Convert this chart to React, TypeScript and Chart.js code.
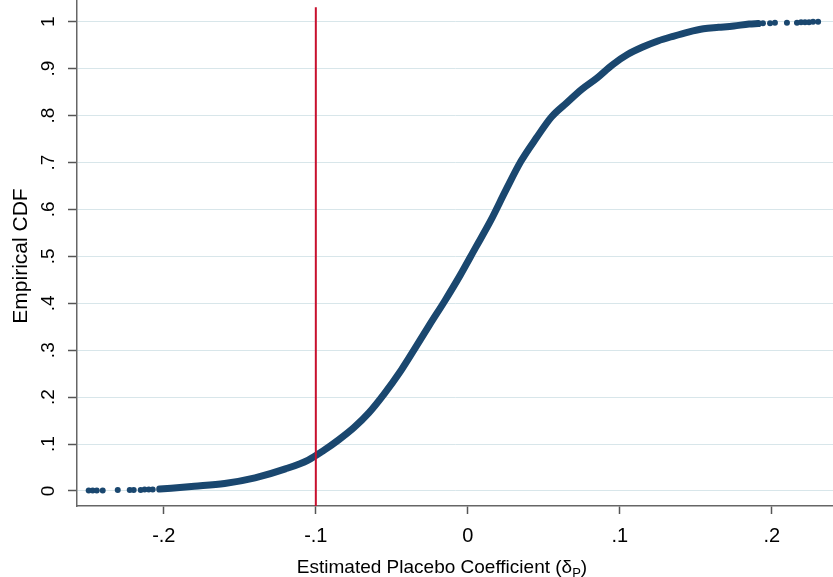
import React, { useEffect, useRef } from "react";
import { Chart, registerables } from "chart.js";

Chart.register(...registerables);

// Tick values and labels
const X_TICKS = [-0.2, -0.1, 0, 0.1, 0.2];
const X_TICK_LABELS = ["-.2", "-.1", "0", ".1", ".2"];
const Y_TICKS = [0, 0.1, 0.2, 0.3, 0.4, 0.5, 0.6, 0.7, 0.8, 0.9, 1];
const Y_TICK_LABELS = ["0", ".1", ".2", ".3", ".4", ".5", ".6", ".7", ".8", ".9", "1"];

// Empirical CDF — dense body of the curve (estimate vs cumulative share)
const CURVE_X = [
  -0.2027, -0.18, -0.16, -0.14, -0.12, -0.105, -0.095, -0.085, -0.075, -0.065,
  -0.055, -0.045, -0.035, -0.025, -0.015, -0.005, 0.005, 0.015, 0.025, 0.035,
  0.045, 0.055, 0.065, 0.075, 0.085, 0.095, 0.105, 0.115, 0.125, 0.135,
  0.145, 0.155, 0.165, 0.175, 0.185, 0.191,
];
const CURVE_Y = [
  0.004, 0.01, 0.016, 0.028, 0.047, 0.066, 0.086, 0.109, 0.135, 0.167,
  0.207, 0.252, 0.303, 0.355, 0.406, 0.46, 0.518, 0.576, 0.641, 0.703,
  0.752, 0.797, 0.827, 0.856, 0.88, 0.908, 0.93, 0.946, 0.959, 0.969,
  0.978, 0.985, 0.988, 0.991, 0.995, 0.996,
];

// Sparse tail observations
const LEFT_TAIL_X = [-0.2494, -0.2468, -0.2441, -0.2402, -0.2303, -0.2224, -0.2198, -0.2152, -0.2126, -0.2099, -0.2073];
const LEFT_TAIL_Y = [0.001, 0.001, 0.001, 0.001, 0.002, 0.002, 0.002, 0.002, 0.003, 0.003, 0.003];
const RIGHT_TAIL_X = [0.1941, 0.1988, 0.202, 0.2099, 0.2165, 0.2192, 0.2218, 0.2244, 0.2271, 0.2304];
const RIGHT_TAIL_Y = [0.997, 0.997, 0.998, 0.998, 0.998, 0.999, 0.999, 0.999, 1.0, 1.0];

// Reference line
const XLINE = -0.1;

const NAVY = "#1a476f";
const RED = "#c8102e";
const FONT = 'Arial, "Liberation Sans", sans-serif';

export default function App() {
  const canvasRef = useRef<HTMLCanvasElement | null>(null);

  useEffect(() => {
    document.body.style.margin = "0";
    const canvas = canvasRef.current;
    if (!canvas) return;

    const labelsPlugin = {
      id: "stataLabels",
      afterDraw(chart: any) {
        const ctx = chart.ctx;
        const xs = chart.scales.x;
        const ys = chart.scales.y;
        ctx.save();
        ctx.fillStyle = "#000";
        // x tick labels
        ctx.font = `20px ${FONT}`;
        ctx.textAlign = "center";
        ctx.textBaseline = "alphabetic";
        X_TICKS.forEach((v, i) => {
          ctx.fillText(X_TICK_LABELS[i], xs.getPixelForValue(v), 542);
        });
        // y tick labels (rotated)
        ctx.font = `19px ${FONT}`;
        Y_TICKS.forEach((v, i) => {
          ctx.save();
          ctx.translate(54, ys.getPixelForValue(v));
          ctx.rotate(-Math.PI / 2);
          ctx.textAlign = "center";
          ctx.fillText(Y_TICK_LABELS[i], 0, 0);
          ctx.restore();
        });
        // y title
        ctx.save();
        ctx.font = `21px ${FONT}`;
        ctx.translate(27, 256);
        ctx.rotate(-Math.PI / 2);
        ctx.textAlign = "center";
        ctx.fillText("Empirical CDF", 0, 0);
        ctx.restore();
        // x title with subscript
        const main = "Estimated Placebo Coefficient (\u03B4";
        const sub = "P";
        const close = ")";
        ctx.textAlign = "left";
        ctx.font = `19px ${FONT}`;
        const wMain = ctx.measureText(main).width;
        const wClose = ctx.measureText(close).width;
        ctx.font = `13px ${FONT}`;
        const wSub = ctx.measureText(sub).width;
        const total = wMain + wSub + wClose;
        let x = 442 - total / 2;
        const base = 573;
        ctx.font = `19px ${FONT}`;
        ctx.fillText(main, x, base);
        x += wMain;
        ctx.font = `13px ${FONT}`;
        ctx.fillText(sub, x, base + 4);
        x += wSub;
        ctx.font = `19px ${FONT}`;
        ctx.fillText(close, x, base);
        ctx.restore();
      },
    };

    const chart = new Chart(canvas, {
      type: "scatter",
      data: {
        datasets: [
          {
            label: "xline",
            data: [
              { x: XLINE, y: -0.032 },
              { x: XLINE, y: 1.031 },
            ],
            showLine: true,
            borderColor: RED,
            borderWidth: 2,
            pointRadius: 0,
          },
          {
            label: "cdf",
            data: CURVE_X.map((x, i) => ({ x, y: CURVE_Y[i] })),
            showLine: true,
            borderColor: NAVY,
            backgroundColor: NAVY,
            borderWidth: 7,
            borderCapStyle: "round",
            borderJoinStyle: "round",
            cubicInterpolationMode: "monotone",
            pointRadius: 0,
          },
          {
            label: "tails",
            data: [
              ...LEFT_TAIL_X.map((x, i) => ({ x, y: LEFT_TAIL_Y[i] })),
              ...RIGHT_TAIL_X.map((x, i) => ({ x, y: RIGHT_TAIL_Y[i] })),
            ],
            showLine: false,
            backgroundColor: NAVY,
            borderColor: NAVY,
            pointRadius: 3,
            borderWidth: 0,
          },
        ],
      },
      options: {
        animation: false,
        responsive: false,
        maintainAspectRatio: false,
        layout: { padding: 0, autoPadding: false },
        plugins: {
          legend: { display: false },
          tooltip: { enabled: false },
          title: { display: false },
        },
        scales: {
          x: {
            type: "linear",
            min: -0.2571,
            max: 0.2402,
            afterBuildTicks: (s: any) => {
              s.ticks = X_TICKS.map((v) => ({ value: v }));
            },
            afterFit: (s: any) => {
              s.height = 71;
            },
            ticks: { display: false },
            grid: {
              color: "rgba(0,0,0,0)",
              tickColor: "#555",
              tickLength: 8,
              tickWidth: 1.5,
            },
            border: { display: true, color: "#666", width: 1.5 },
          },
          y: {
            type: "linear",
            min: -0.032,
            max: 1.0463,
            afterBuildTicks: (s: any) => {
              s.ticks = Y_TICKS.map((v) => ({ value: v }));
            },
            afterFit: (s: any) => {
              s.width = 77;
            },
            ticks: { display: false },
            grid: {
              color: "#d8e6ea",
              lineWidth: 1,
              tickColor: "#555",
              tickLength: 9,
              tickWidth: 1.5,
            },
            border: { display: true, color: "#666", width: 1.5 },
          },
        },
      },
      plugins: [labelsPlugin],
    } as any);

    return () => chart.destroy();
  }, []);

  return (
    <div style={{ position: "absolute", left: 0, top: 0, width: 833, height: 577, background: "#fff" }}>
      <canvas ref={canvasRef} width={833} height={577} style={{ display: "block" }} />
    </div>
  );
}
